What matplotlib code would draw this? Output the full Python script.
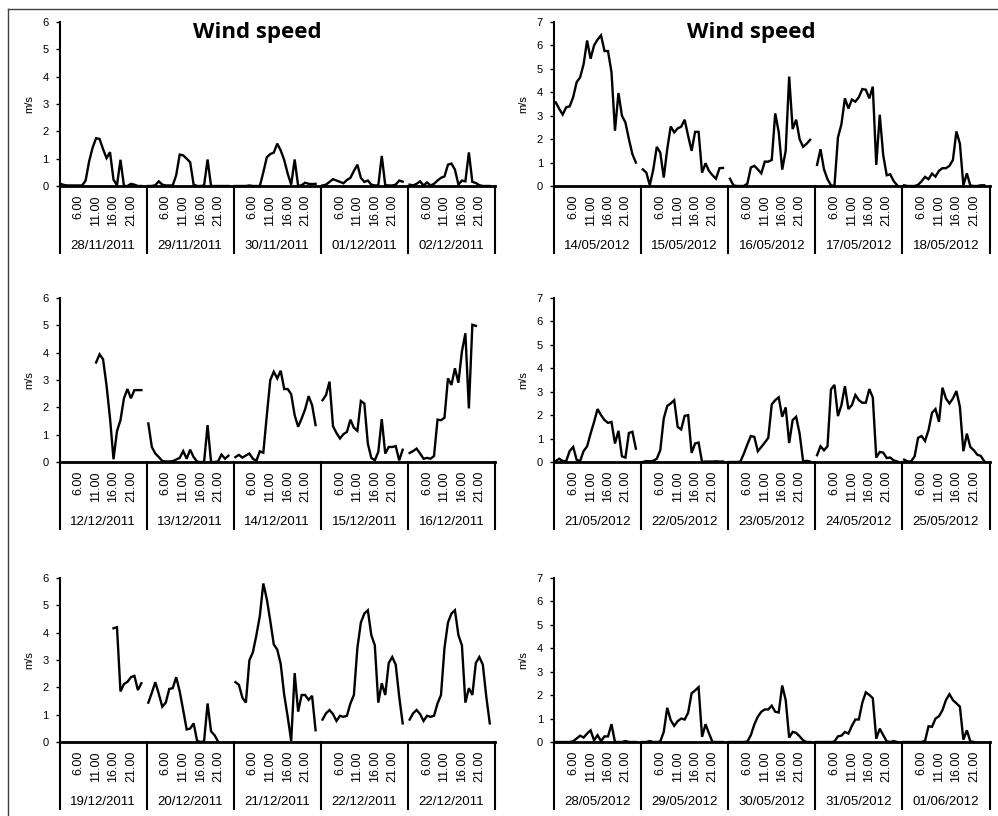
import numpy as np
import matplotlib.pyplot as plt
from matplotlib.lines import Line2D

nan = np.nan

# hourly wind speed (m/s), 24 values per day, nan = missing hour
hour_labels = ['6.00', '11.00', '16.00', '21.00']
hour_slots = [5, 10, 15, 20]     # hours 1..24 -> slot 0..23, slot 24 is the empty row

dates_nov = ['28/11/2011', '29/11/2011', '30/11/2011', '01/12/2011', '02/12/2011']
wind_nov = [
    [0.07, 0.03, 0.02, 0.02, 0.02, 0.02, 0.02, 0.2, 0.9, 1.4, 1.75, 1.72, 1.35, 1.02, 1.24, 0.23, 0.03, 0.96, 0.0, 0.0, 0.08, 0.05, 0.0, 0.0],
    [0.0, 0.0, 0.03, 0.17, 0.05, 0.02, 0.02, 0.02, 0.4, 1.15, 1.12, 1.0, 0.87, 0.05, 0.0, 0.0, 0.02, 0.97, 0.0, 0.0, 0.0, 0.0, 0.0, 0.0],
    [0.0, 0.0, 0.0, 0.0, 0.02, 0.0, 0.0, 0.0, 0.5, 1.05, 1.17, 1.22, 1.55, 1.3, 0.95, 0.45, 0.05, 0.97, 0.0, 0.03, 0.12, 0.08, 0.07, 0.08],
    [0.02, 0.05, 0.15, 0.25, 0.2, 0.15, 0.1, 0.22, 0.3, 0.55, 0.78, 0.3, 0.15, 0.2, 0.05, 0.02, 0.02, 1.1, 0.03, 0.02, 0.02, 0.05, 0.2, 0.16],
    [0.05, 0.02, 0.08, 0.17, 0.02, 0.13, 0.02, 0.08, 0.2, 0.3, 0.35, 0.78, 0.82, 0.6, 0.05, 0.2, 0.17, 1.23, 0.15, 0.11, 0.03, 0.0, 0.0, 0.0],
]

dates_may1 = ['14/05/2012', '15/05/2012', '16/05/2012', '17/05/2012', '18/05/2012']
wind_may1 = [
    [3.57, 3.29, 3.05, 3.36, 3.4, 3.79, 4.43, 4.64, 5.2, 6.21, 5.43, 6.0, 6.25, 6.43, 5.76, 5.76, 4.86, 2.36, 3.97, 3.0, 2.71, 2.0, 1.36, 1.0],
    [0.71, 0.57, 0.03, 0.71, 1.67, 1.43, 0.36, 1.57, 2.54, 2.29, 2.46, 2.53, 2.83, 2.14, 1.5, 2.31, 2.31, 0.57, 0.97, 0.64, 0.46, 0.31, 0.76, 0.77],
    [0.31, 0.03, 0.0, 0.0, 0.0, 0.1, 0.79, 0.86, 0.71, 0.54, 1.04, 1.04, 1.11, 3.1, 2.3, 0.7, 1.5, 4.67, 2.43, 2.83, 2.0, 1.67, 1.8, 1.97],
    [0.9, 1.57, 0.71, 0.29, 0.03, 0.0, 2.07, 2.64, 3.74, 3.31, 3.69, 3.6, 3.79, 4.14, 4.11, 3.74, 4.24, 0.9, 3.04, 1.31, 0.46, 0.5, 0.21, 0.03],
    [0.03, 0.0, 0.0, 0.0, 0.05, 0.2, 0.39, 0.29, 0.53, 0.4, 0.65, 0.76, 0.76, 0.86, 1.11, 2.33, 1.81, 0.03, 0.54, 0.02, 0.0, 0.0, 0.03, 0.03],
]

dates_dec1 = ['12/12/2011', '13/12/2011', '14/12/2011', '15/12/2011', '16/12/2011']
wind_dec1 = [
    [nan, nan, nan, nan, nan, nan, nan, nan, nan, nan, 3.64, 3.94, 3.76, 2.8, 1.6, 0.1, 1.13, 1.53, 2.33, 2.67, 2.33, 2.63, 2.63, 2.63],
    [1.41, 0.55, 0.31, 0.18, 0.04, 0.02, 0.02, 0.03, 0.09, 0.15, 0.4, 0.12, 0.45, 0.18, 0.01, 0.0, 0.0, 1.35, 0.0, 0.0, 0.02, 0.27, 0.12, 0.23],
    [0.18, 0.26, 0.16, 0.24, 0.31, 0.12, 0.04, 0.39, 0.34, 1.7, 3.0, 3.3, 3.06, 3.34, 2.67, 2.67, 2.48, 1.71, 1.29, 1.59, 1.93, 2.41, 2.08, 1.35],
    [2.26, 2.45, 2.94, 1.31, 1.06, 0.86, 1.02, 1.1, 1.55, 1.25, 1.14, 2.23, 2.14, 0.67, 0.15, 0.06, 0.37, 1.57, 0.31, 0.55, 0.55, 0.58, 0.06, 0.45],
    [0.33, 0.4, 0.49, 0.31, 0.12, 0.15, 0.12, 0.22, 1.55, 1.53, 1.62, 3.06, 2.82, 3.43, 2.9, 4.04, 4.71, 1.96, 5.02, 4.98, nan, nan, nan, nan],
]

dates_may2 = ['21/05/2012', '22/05/2012', '23/05/2012', '24/05/2012', '25/05/2012']
wind_may2 = [
    [0.04, 0.14, 0.04, 0.04, 0.47, 0.64, 0.1, 0.04, 0.47, 0.67, 1.21, 1.71, 2.26, 2.0, 1.79, 1.67, 1.71, 0.79, 1.33, 0.24, 0.19, 1.24, 1.29, 0.57],
    [0.0, 0.04, 0.03, 0.05, 0.14, 0.5, 1.86, 2.39, 2.5, 2.64, 1.5, 1.39, 1.97, 2.0, 0.39, 0.79, 0.83, 0.0, 0.02, 0.02, 0.02, 0.03, 0.02, 0.02],
    [0.0, 0.0, 0.0, 0.02, 0.36, 0.75, 1.11, 1.07, 0.46, 0.64, 0.83, 1.03, 2.46, 2.64, 2.76, 1.93, 2.33, 0.81, 1.79, 1.93, 1.21, 0.03, 0.05, 0.02],
    [0.29, 0.67, 0.5, 0.67, 3.1, 3.29, 1.96, 2.43, 3.24, 2.26, 2.43, 2.86, 2.64, 2.53, 2.53, 3.11, 2.76, 0.19, 0.43, 0.4, 0.17, 0.19, 0.07, 0.02],
    [0.1, 0.02, 0.03, 0.24, 1.03, 1.11, 0.9, 1.36, 2.1, 2.26, 1.71, 3.17, 2.71, 2.5, 2.71, 3.03, 2.36, 0.46, 1.21, 0.64, 0.5, 0.31, 0.26, 0.03],
]

dates_dec2 = ['19/12/2011', '20/12/2011', '21/12/2011', '22/12/2011', '22/12/2011']
wind_dec2 = [
    [nan, nan, nan, nan, nan, nan, nan, nan, nan, nan, nan, nan, nan, nan, nan, 4.16, 4.2, 1.85, 2.12, 2.2, 2.37, 2.42, 1.9, 2.15],
    [1.44, 1.8, 2.19, 1.76, 1.29, 1.44, 1.94, 1.97, 2.37, 1.85, 1.17, 0.46, 0.49, 0.68, 0.04, 0.0, 0.03, 1.41, 0.39, 0.25, 0.02, nan, nan, nan],
    [2.19, 2.09, 1.62, 1.44, 2.99, 3.28, 3.9, 4.61, 5.8, 5.23, 4.43, 3.57, 3.38, 2.85, 1.72, 0.92, 0.04, 2.52, 1.11, 1.72, 1.72, 1.54, 1.69, 0.43],
    [0.82, 1.05, 1.17, 1.02, 0.77, 0.96, 0.92, 0.96, 1.41, 1.72, 3.44, 4.37, 4.7, 4.82, 3.91, 3.54, 1.44, 2.15, 1.72, 2.89, 3.11, 2.83, 1.66, 0.68],
    [0.82, 1.05, 1.17, 1.02, 0.77, 0.96, 0.92, 0.96, 1.41, 1.72, 3.44, 4.37, 4.7, 4.82, 3.91, 3.54, 1.44, 1.97, 1.72, 2.89, 3.11, 2.83, 1.66, 0.68],
]

dates_may3 = ['28/05/2012', '29/05/2012', '30/05/2012', '31/05/2012', '01/06/2012']
wind_may3 = [
    [0.0, 0.0, 0.0, 0.0, 0.0, 0.03, 0.15, 0.27, 0.19, 0.36, 0.5, 0.07, 0.29, 0.04, 0.24, 0.24, 0.76, 0.0, 0.0, 0.0, 0.04, 0.0, 0.0, 0.0],
    [0.0, 0.0, 0.04, 0.0, 0.0, 0.02, 0.43, 1.46, 0.93, 0.69, 0.89, 1.0, 0.96, 1.25, 2.08, 2.2, 2.34, 0.22, 0.76, 0.36, 0.0, 0.0, 0.0, 0.0],
    [0.0, 0.0, 0.0, 0.0, 0.0, 0.02, 0.29, 0.75, 1.08, 1.29, 1.39, 1.39, 1.55, 1.29, 1.26, 2.41, 1.79, 0.19, 0.43, 0.39, 0.24, 0.07, 0.0, 0.0],
    [0.0, 0.0, 0.0, 0.0, 0.0, 0.02, 0.24, 0.27, 0.43, 0.36, 0.69, 0.96, 0.96, 1.68, 2.12, 2.01, 1.87, 0.14, 0.57, 0.29, 0.03, 0.0, 0.04, 0.0],
    [0.0, 0.0, 0.0, 0.0, 0.0, 0.0, 0.05, 0.67, 0.65, 1.0, 1.1, 1.36, 1.79, 2.04, 1.79, 1.65, 1.51, 0.1, 0.5, 0.03, 0.0, nan, nan, nan],
]

panels = [
    (dates_nov, wind_nov, 6, True),
    (dates_may1, wind_may1, 7, True),
    (dates_dec1, wind_dec1, 6, False),
    (dates_may2, wind_may2, 7, False),
    (dates_dec2, wind_dec2, 6, False),
    (dates_may3, wind_may3, 7, False),
]

W, H = 998, 816
fig = plt.figure(figsize=(W / 100, H / 100), dpi=100)
plt.rcParams['font.family'] = ['Liberation Sans', 'DejaVu Sans']

lefts = [59.5, 554]
bottoms = [186, 462, 742]
ax_w, ax_h = 435.5, 164
per_day = 25

for i, (dates, days, ymax, has_title) in enumerate(panels):
    col, row = i % 2, i // 2
    ax = fig.add_axes([lefts[col] / W, 1 - bottoms[row] / H, ax_w / W, ax_h / H])

    y = []
    for day in days:
        y += list(day) + [nan]    # blank row between days
    y = np.array(y, dtype=float)
    x = np.arange(len(y))
    ax.plot(x, y, color='black', lw=1.7, solid_joinstyle='miter', clip_on=False, zorder=3)

    ax.set_xlim(-0.5, len(y) - 0.5)
    ax.set_ylim(0, ymax)
    ax.set_yticks(range(ymax + 1))
    ax.set_xticks([])
    for s in ['top', 'right']:
        ax.spines[s].set_visible(False)
    ax.spines['left'].set_linewidth(1.5)
    ax.spines['bottom'].set_linewidth(2.0)
    ax.tick_params(axis='y', direction='out', length=3, width=1, pad=5, labelsize=8)
    ax.set_ylabel('m/s', fontsize=8)
    ax.yaxis.set_label_coords(-0.058, 0.5)

    trans = ax.get_xaxis_transform()
    for d, date in enumerate(dates):
        start = d * per_day - 0.5
        ax.plot([start, start], [0, -0.41], transform=trans, color='black', lw=1.5, clip_on=False)
        ax.text(d * per_day + 12, -0.365, date, transform=trans, ha='center', va='center', fontsize=9.5)
        for s, lab in zip(hour_slots, hour_labels):
            ax.text(d * per_day + s, -0.055, lab, transform=trans, rotation=90,
                    ha='center', va='top', fontsize=9)
    end = len(dates) * per_day - 0.5
    ax.plot([end, end], [0, -0.41], transform=trans, color='black', lw=1.5, clip_on=False)

    if has_title:
        ax.text(0.4535, 0.933, 'Wind speed', transform=ax.transAxes, ha='center', va='center',
                fontsize=16, fontweight='bold', family=['Open Sans', 'DejaVu Sans'])

# frame around the whole chart area
fig.add_artist(Line2D([8 / W, 8 / W], [0, 1 - 8.5 / H], transform=fig.transFigure, color='#404040', lw=1))
fig.add_artist(Line2D([8 / W, 1], [1 - 8.5 / H, 1 - 8.5 / H], transform=fig.transFigure, color='#404040', lw=1))

fig.savefig('out.png', dpi=100)
